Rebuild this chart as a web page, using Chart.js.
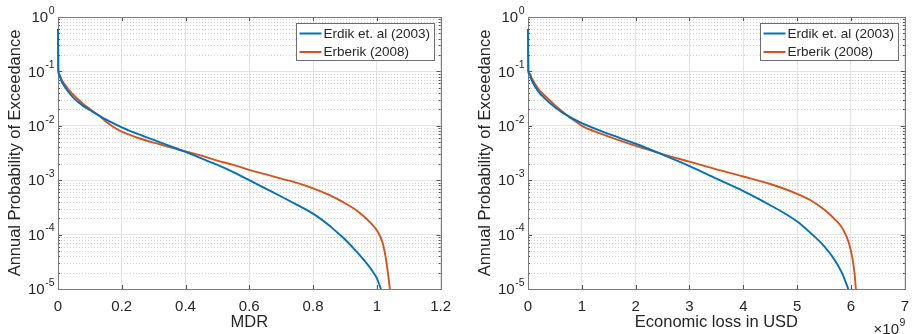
<!DOCTYPE html>
<html>
<head>
<meta charset="utf-8">
<script src="https://cdn.jsdelivr.net/npm/chart.js@4.4.1/dist/chart.umd.min.js"></script>
<style>
    body { margin: 0; background: #fff; }
    #wrap { position: relative; width: 918px; height: 334px; }
    canvas { position: absolute; top: 0; }
    #mdr-chart { left: 0; }
    #loss-chart { left: 460px; }
</style>
</head>
<body>
<div id="wrap">
    <canvas id="mdr-chart" width="460" height="334"></canvas>
    <canvas id="loss-chart" width="458" height="334"></canvas>
</div>
<script>
// Series names / colours (MATLAB defaults)
const seriesLabels = ['Erdik et. al (2003)', 'Erberik (2008)'];
const seriesColors = ['#0072BD', '#D95319'];

// Tick values
const yDecades = [1e-5, 1e-4, 1e-3, 1e-2, 1e-1, 1];
const mdrTicks = [0, 0.2, 0.4, 0.6, 0.8, 1, 1.2];
const lossTicks = [0, 1, 2, 3, 4, 5, 6, 7];   // x 10^9 USD

// Left panel: MDR vs annual probability of exceedance
const mdrErdikX = [0, 0.001, 0.003, 0.01, 0.03, 0.05, 0.08, 0.1, 0.125, 0.16, 0.2, 0.25, 0.3, 0.35, 0.4, 0.45, 0.5, 0.55, 0.6, 0.65, 0.7, 0.75, 0.8, 0.85, 0.87, 0.89, 0.93, 0.96, 0.985, 1.0, 1.013];
const mdrErdikP = [0.6, 0.1, 0.088, 0.068, 0.044, 0.032, 0.023, 0.0195, 0.0159, 0.0122, 0.0094, 0.0071, 0.0055, 0.00427, 0.00331, 0.00251, 0.00191, 0.00141, 0.001, 0.000708, 0.000501, 0.000351, 0.000243, 0.000148, 0.000117, 0.0000933, 0.0000537, 0.0000339, 0.0000219, 0.0000158, 0.00001];
const mdrErberikX = [0, 0.001, 0.003, 0.01, 0.03, 0.05, 0.08, 0.1, 0.125, 0.15, 0.175, 0.2, 0.25, 0.3, 0.35, 0.4, 0.45, 0.5, 0.55, 0.6, 0.65, 0.7, 0.75, 0.8, 0.85, 0.89, 0.94, 0.98, 1.0, 1.018, 1.029, 1.036, 1.041];
const mdrErberikP = [0.6, 0.105, 0.092, 0.073, 0.049, 0.036, 0.025, 0.0204, 0.0159, 0.012, 0.0094, 0.0078, 0.00603, 0.0049, 0.00407, 0.00339, 0.00282, 0.00229, 0.00191, 0.00155, 0.00129, 0.00107, 0.000891, 0.000708, 0.000537, 0.000407, 0.000269, 0.000166, 0.00012, 0.0000708, 0.0000347, 0.0000174, 0.00001];

// Right panel: economic loss (10^9 USD) vs annual probability of exceedance
const lossErdikX = [0, 0.006, 0.03, 0.07, 0.19, 0.31, 0.5, 0.74, 1.0, 1.5, 2.0, 2.5, 3.0, 3.5, 4.0, 4.5, 5.0, 5.25, 5.5, 5.7, 5.83, 5.95];
const lossErdikP = [0.6, 0.1, 0.087, 0.068, 0.043, 0.032, 0.022, 0.0152, 0.0112, 0.00708, 0.00468, 0.00295, 0.00182, 0.00107, 0.000631, 0.000347, 0.000174, 0.000107, 0.0000617, 0.0000339, 0.00002, 0.00001];
const lossErberikX = [0, 0.006, 0.03, 0.07, 0.19, 0.31, 0.5, 0.74, 0.9, 1.0, 1.25, 1.5, 2.0, 2.5, 3.0, 3.5, 4.0, 4.5, 5.0, 5.25, 5.5, 5.7, 5.85, 5.96, 6.03, 6.07, 6.09];
const lossErberikP = [0.6, 0.105, 0.092, 0.075, 0.048, 0.036, 0.024, 0.0152, 0.0117, 0.01, 0.0078, 0.00631, 0.00427, 0.00302, 0.00219, 0.00158, 0.00117, 0.000851, 0.000562, 0.000427, 0.000288, 0.000191, 0.000126, 0.0000708, 0.0000355, 0.0000178, 0.00001];

const FONT = '"Liberation Sans", Arial, Helvetica, sans-serif';
const TEXT = '#262626';

// draw "base" followed by a raised smaller exponent, right edge at xRight
function drawPower(ctx, base, exp, xRight, yMid) {
    ctx.font = '15px ' + FONT;
    const wb = ctx.measureText(base).width;
    ctx.font = '10.5px ' + FONT;
    const we = ctx.measureText(exp).width;
    const x0 = xRight - wb - we;
    ctx.fillStyle = TEXT;
    ctx.textAlign = 'left';
    ctx.textBaseline = 'middle';
    ctx.font = '15px ' + FONT;
    ctx.fillText(base, x0, yMid + 1);
    ctx.font = '10.5px ' + FONT;
    ctx.fillText(exp, x0 + wb + 0.5, yMid - 6);
}

// MATLAB-like axes: dotted minor grid, box and inner ticks under the data,
// power-of-ten labels and a boxed legend on top
const matlabAxes = {
    id: 'matlabAxes',
    beforeDatasetsDraw(chart) {
        const { ctx, chartArea: a, scales: { x, y } } = chart;
        ctx.save();
        ctx.strokeStyle = '#d2d2d2';
        ctx.lineWidth = 1;
        ctx.setLineDash([1, 2]);
        for (let i = 0; i < yDecades.length - 1; i++) {
            for (let k = 2; k <= 9; k++) {
                const py = Math.round(y.getPixelForValue(k * yDecades[i])) + 0.5;
                ctx.beginPath();
                ctx.moveTo(a.left, py);
                ctx.lineTo(a.right, py);
                ctx.stroke();
            }
        }
        ctx.setLineDash([]);

        // inner tick marks
        ctx.strokeStyle = '#555';
        ctx.beginPath();
        x.ticks.forEach(t => {
            const px = Math.round(x.getPixelForValue(t.value)) + 0.5;
            ctx.moveTo(px, a.bottom); ctx.lineTo(px, a.bottom - 4);
            ctx.moveTo(px, a.top); ctx.lineTo(px, a.top + 4);
        });
        for (let i = 0; i < yDecades.length; i++) {
            const py = Math.round(y.getPixelForValue(yDecades[i])) + 0.5;
            ctx.moveTo(a.left, py); ctx.lineTo(a.left + 4, py);
            ctx.moveTo(a.right, py); ctx.lineTo(a.right - 4, py);
            if (i < yDecades.length - 1) {
                for (let k = 2; k <= 9; k++) {
                    const pm = Math.round(y.getPixelForValue(k * yDecades[i])) + 0.5;
                    ctx.moveTo(a.left, pm); ctx.lineTo(a.left + 2, pm);
                    ctx.moveTo(a.right, pm); ctx.lineTo(a.right - 2, pm);
                }
            }
        }
        ctx.stroke();

        // axes box
        ctx.strokeStyle = '#7a7a7a';
        ctx.strokeRect(Math.round(a.left) + 0.5, Math.round(a.top) + 0.5,
            Math.round(a.right - a.left), Math.round(a.bottom - a.top));
        ctx.restore();
    },
    afterDraw(chart, args, opts) {
        const { ctx, chartArea: a, scales: { y } } = chart;
        ctx.save();

        // y tick labels 10^n
        yDecades.forEach(d => {
            const e = Math.round(Math.log10(d));
            drawPower(ctx, '10', String(e), a.left - 4, y.getPixelForValue(d));
        });

        // x multiplier
        if (opts.multiplier) {
            drawPower(ctx, '\u00d710', opts.multiplier, a.right, 329);
        }

        // legend
        ctx.font = '13.5px ' + FONT;
        const tw = Math.max(...chart.data.datasets.map(ds => ctx.measureText(ds.label).width));
        const bw = Math.round(3 + 22 + 2 + tw + 4);
        const bh = 37;
        const bx = Math.round(a.right - 7 - bw) + 0.5;
        const by = Math.round(a.top + 6) + 0.5;
        ctx.fillStyle = '#fff';
        ctx.fillRect(bx, by, bw, bh);
        ctx.strokeStyle = '#6e6e6e';
        ctx.lineWidth = 1;
        ctx.strokeRect(bx, by, bw, bh);
        chart.data.datasets.forEach((ds, i) => {
            const ly = by + 10 + i * 18.5;
            ctx.strokeStyle = ds.borderColor;
            ctx.lineWidth = 2;
            ctx.beginPath();
            ctx.moveTo(bx + 3, ly);
            ctx.lineTo(bx + 25, ly);
            ctx.stroke();
            ctx.fillStyle = TEXT;
            ctx.textAlign = 'left';
            ctx.textBaseline = 'middle';
            ctx.fillText(ds.label, bx + 27, ly + 0.5);
        });
        ctx.restore();
    }
};

function toPoints(xs, ps) {
    return xs.map((v, i) => ({ x: v, y: ps[i] }));
}

function makeChart(canvasId, cfg) {
    const ctx = document.getElementById(canvasId).getContext('2d');
    return new Chart(ctx, {
        type: 'line',
        data: {
            datasets: cfg.series.map((s, i) => ({
                label: seriesLabels[i],
                data: toPoints(s[0], s[1]),
                borderColor: seriesColors[i],
                backgroundColor: seriesColors[i],
                borderWidth: 1.9,
                pointRadius: 0,
                cubicInterpolationMode: 'monotone',
                clip: 3,
                fill: false
            }))
        },
        options: {
            responsive: false,
            animation: false,
            devicePixelRatio: 1,
            layout: { padding: { top: 17, right: cfg.rightPad, bottom: 0, left: 0 } },
            plugins: {
                legend: { display: false },
                tooltip: { enabled: false },
                matlabAxes: { multiplier: cfg.multiplier }
            },
            scales: {
                x: {
                    type: 'linear',
                    min: cfg.xTicks[0],
                    max: cfg.xTicks[cfg.xTicks.length - 1],
                    afterBuildTicks: sc => { sc.ticks = cfg.xTicks.map(v => ({ value: v })); },
                    afterFit: sc => { sc.height = 45; },
                    grid: { color: '#e4e4e4', drawTicks: false },
                    border: { display: false },
                    ticks: {
                        padding: 9,
                        color: TEXT,
                        font: { family: FONT, size: 15 },
                        maxRotation: 0,
                        autoSkip: false,
                        callback: v => String(+v.toFixed(1))
                    },
                    title: {
                        display: true,
                        text: cfg.xTitle,
                        color: TEXT,
                        font: { family: FONT, size: 16.5 },
                        padding: { top: 0, bottom: 2 }
                    }
                },
                y: {
                    type: 'logarithmic',
                    min: 1e-5,
                    max: 1,
                    afterBuildTicks: sc => { sc.ticks = yDecades.map(v => ({ value: v, major: true })); },
                    afterFit: sc => { sc.width = cfg.yWidth; },
                    grid: { color: '#e4e4e4', drawTicks: false },
                    border: { display: false },
                    ticks: { display: false },
                    title: {
                        display: true,
                        text: 'Annual Probability of Exceedance',
                        color: TEXT,
                        font: { family: FONT, size: 16.5 },
                        padding: { top: cfg.titlePad, bottom: 0 }
                    }
                }
            }
        },
        plugins: [matlabAxes]
    });
}

makeChart('mdr-chart', {
    series: [[mdrErdikX, mdrErdikP], [mdrErberikX, mdrErberikP]],
    xTicks: mdrTicks,
    xTitle: 'MDR',
    yWidth: 58,
    titlePad: 5.5,
    rightPad: 17,
    multiplier: null
});

makeChart('loss-chart', {
    series: [[lossErdikX, lossErdikP], [lossErberikX, lossErberikP]],
    xTicks: lossTicks,
    xTitle: 'Economic loss in USD',
    yWidth: 68,
    titlePad: 15.5,
    rightPad: 6,
    multiplier: '9'
});
</script>
</body>
</html>
